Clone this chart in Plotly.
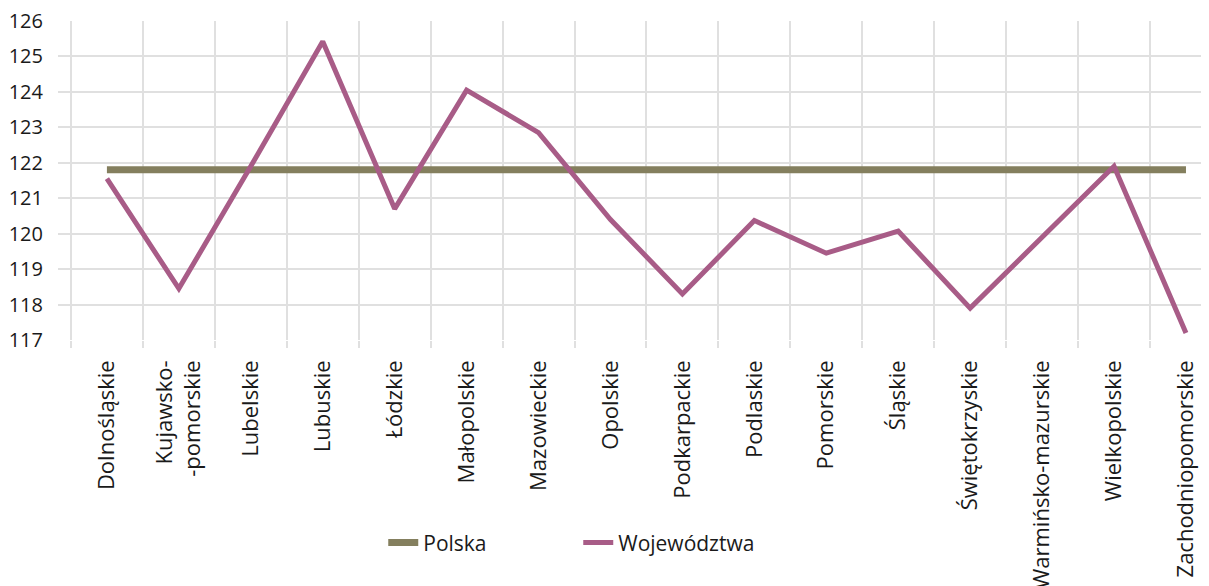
import plotly.graph_objects as go

categories = ["Dolnośląskie", "Kujawsko-<br>-pomorskie", "Lubelskie", "Lubuskie", "Łódzkie",
              "Małopolskie", "Mazowieckie", "Opolskie", "Podkarpackie", "Podlaskie",
              "Pomorskie", "Śląskie", "Świętokrzyskie", "Warmińsko-mazurskie",
              "Wielkopolskie", "Zachodniopomorskie"]
polska = [121.8] * 16
wojewodztwa = [121.55, 118.45, 121.9, 125.42, 120.7, 124.05, 122.85, 120.4,
               118.3, 120.37, 119.45, 120.07, 117.9, 119.9, 121.9, 117.2]
y_ticks = list(range(117, 127))

x = list(range(len(categories)))

fig = go.Figure()
fig.add_trace(go.Scatter(x=x, y=polska, mode="lines", name="Polska",
                         line=dict(color="#847F5E", width=7)))
fig.add_trace(go.Scatter(x=x, y=wojewodztwa, mode="lines", name="Województwa",
                         line=dict(color="#A85C87", width=5)))

font_family = "Open Sans"
fig.update_layout(
    width=1201, height=578,
    margin=dict(l=50, r=0, t=13, b=246, autoexpand=False),
    paper_bgcolor="white", plot_bgcolor="white",
    font=dict(family=font_family, color="#1a1a1a"),
    showlegend=True,
    legend=dict(orientation="h", x=0.452, xanchor="center", y=-0.636, yanchor="middle",
                font=dict(size=21, color="#1a1a1a"), entrywidth=150),
    xaxis=dict(
        range=[-0.68, 15.32], automargin=False,
        tickmode="array", tickvals=x, ticktext=categories,
        tickangle=-90, tickfont=dict(size=22, color="#1a1a1a"),
        showgrid=False, zeroline=False, showline=False, ticks="",
        ticklabelstandoff=15, ticklabeloverflow="allow",
        minor=dict(tickmode="array", tickvals=[i - 0.5 for i in x],
                   showgrid=True, gridcolor="#E0E0E0", gridwidth=1.5,
                   ticks="outside", ticklen=7, tickcolor="#E0E0E0", tickwidth=1.5),
    ),
    yaxis=dict(
        range=[117, 126], automargin=False,
        tickmode="array", tickvals=y_ticks,
        tickfont=dict(size=20, color="#1a1a1a"),
        showgrid=True, gridcolor="#E0E0E0", gridwidth=1.5,
        zeroline=False, showline=False, ticks="",
        ticklabelstandoff=14, ticklabeloverflow="allow",
    ),
)

fig.write_html("out.html")
